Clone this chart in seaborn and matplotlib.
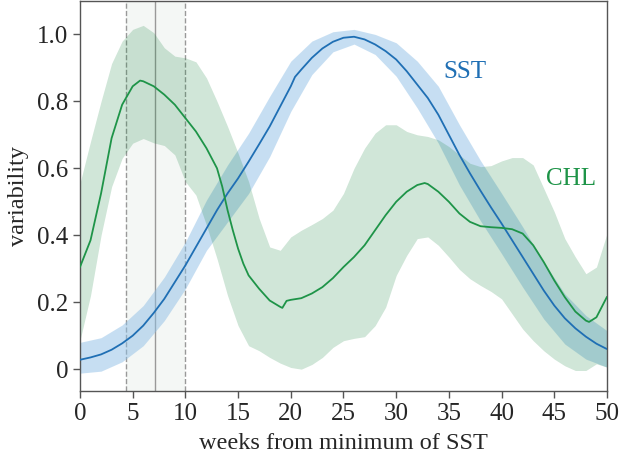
import numpy as np
import matplotlib
matplotlib.use("Agg")
import matplotlib.pyplot as plt
import seaborn as sns

# SST mean curve (weeks, value)
sst_weeks = [0, 1, 2, 3, 4, 5, 6, 7, 8, 9, 10, 11, 12, 13, 14, 15, 16, 17, 18, 19, 20, 20.4,
             21, 22, 23, 24, 25, 26, 27, 28, 29, 30, 31, 32, 33, 34, 35, 36, 37, 38, 39,
             40, 41, 42, 43, 44, 45, 46, 47, 48, 49, 50]
sst_mean = [0.028, 0.035, 0.044, 0.058, 0.077, 0.10, 0.13, 0.168, 0.21, 0.26, 0.31, 0.365,
            0.42, 0.475, 0.525, 0.57, 0.62, 0.672, 0.725, 0.785, 0.845, 0.873,
            0.895, 0.93, 0.958, 0.978, 0.99, 0.993, 0.985, 0.97, 0.95, 0.925, 0.89, 0.85,
            0.81, 0.76, 0.70, 0.64, 0.585, 0.533, 0.483, 0.435, 0.385, 0.335, 0.285,
            0.235, 0.19, 0.152, 0.122, 0.097, 0.076, 0.06]

# SST band
sst_band_weeks = [0, 2, 4, 6, 8, 10, 12, 14, 16, 18, 20, 22, 24, 26, 28, 30, 32, 34, 36,
                  38, 40, 42, 44, 46, 48, 50]
sst_upper = [0.08, 0.094, 0.132, 0.19, 0.275, 0.38, 0.505, 0.61, 0.705, 0.815, 0.92, 0.98,
             1.008, 1.015, 1.0, 0.975, 0.92, 0.845, 0.73, 0.623, 0.525, 0.425, 0.32,
             0.225, 0.16, 0.115]
sst_lower = [-0.012, -0.006, 0.022, 0.07, 0.145, 0.24, 0.355, 0.44, 0.525, 0.635, 0.77,
             0.88, 0.948, 0.971, 0.94, 0.875, 0.78, 0.675, 0.55, 0.443, 0.345, 0.245,
             0.15, 0.075, 0.03, 0.006]

# CHL mean curve
chl_weeks = [0, 1, 2, 3, 4, 5, 5.7, 6, 7, 8, 9, 10, 11, 12, 13, 13.5, 14, 14.5, 15, 15.5,
             16, 17, 18, 19, 19.2, 19.6, 20, 21, 22, 23, 24, 25, 26, 27, 28, 29, 30, 31,
             32, 32.7, 33, 34, 35, 36, 37, 38, 39, 40, 41, 42, 43, 44, 45, 46, 47, 48,
             48.3, 49, 50]
chl_mean = [0.305, 0.385, 0.525, 0.69, 0.79, 0.845, 0.862, 0.86, 0.845, 0.82, 0.79, 0.75,
            0.71, 0.66, 0.60, 0.545, 0.475, 0.415, 0.36, 0.315, 0.28, 0.24, 0.205, 0.186,
            0.183, 0.204, 0.207, 0.212, 0.226, 0.245, 0.272, 0.305, 0.335, 0.37, 0.415,
            0.46, 0.5, 0.53, 0.55, 0.556, 0.553, 0.53, 0.5, 0.465, 0.44, 0.427, 0.424,
            0.422, 0.418, 0.405, 0.37, 0.32, 0.265, 0.215, 0.172, 0.145, 0.141, 0.155,
            0.216]

# CHL band
chl_band_weeks = list(range(0, 51))
chl_upper = [0.555, 0.68, 0.80, 0.913, 0.98, 1.015, 1.027, 1.005, 0.96, 0.935, 0.93, 0.918,
             0.87, 0.80, 0.725, 0.645, 0.56, 0.45, 0.365, 0.355, 0.395, 0.415, 0.432, 0.45,
             0.475, 0.525, 0.60, 0.66, 0.705, 0.73, 0.73, 0.71, 0.70, 0.695, 0.685, 0.665,
             0.64, 0.615, 0.605, 0.608, 0.622, 0.632, 0.632, 0.61, 0.54, 0.47, 0.39, 0.335,
             0.285, 0.305, 0.405]
chl_lower = [0.086, 0.22, 0.40, 0.545, 0.63, 0.675, 0.689, 0.676, 0.668, 0.64, 0.56, 0.52,
             0.43, 0.33, 0.22, 0.13, 0.07, 0.055, 0.035, 0.018, 0.005, 0.0, 0.014, 0.035,
             0.065, 0.085, 0.092, 0.097, 0.13, 0.185, 0.28, 0.34, 0.39, 0.395, 0.37, 0.335,
             0.298, 0.27, 0.25, 0.232, 0.21, 0.165, 0.12, 0.085, 0.055, 0.03, 0.01, -0.004,
             -0.004, 0.016, 0.006]

window = [4.35, 7.15, 9.95]
yticks = [0, 0.2, 0.4, 0.6, 0.8, 1.0]
ytick_labels = ["0", "0.2", "0.4", "0.6", "0.8", "1.0"]

sst_col = "#1f6fb4"
chl_col = "#1e9448"

sns.set_style("ticks")
plt.rcParams["font.family"] = ["Liberation Serif", "DejaVu Serif"]

fig, ax = plt.subplots(figsize=(6.2, 4.63), dpi=100)
fig.subplots_adjust(left=0.129, right=0.979, bottom=0.155, top=0.998)

# time window
ax.axvspan(window[0], window[2], color="#e8efea", alpha=0.45, lw=0, zorder=0)
ax.axvline(window[0], color="#999999", ls="--", lw=1, zorder=1)
ax.axvline(window[2], color="#999999", ls="--", lw=1, zorder=1)
ax.axvline(window[1], color="#999999", ls="-", lw=1, zorder=1)

ax.fill_between(sst_band_weeks, sst_lower, sst_upper, color="#8fbfe6", alpha=0.5, lw=0, zorder=2)
ax.fill_between(chl_band_weeks, chl_lower, chl_upper, color="#14823c", alpha=0.2, lw=0, zorder=2)

sns.lineplot(x=sst_weeks, y=sst_mean, color=sst_col, lw=1.3, ax=ax, zorder=3)
sns.lineplot(x=chl_weeks, y=chl_mean, color=chl_col, lw=1.3, ax=ax, zorder=3)

ax.text(36.5, 0.887, "SST", color=sst_col, fontsize=18, ha="center", va="center")
ax.text(46.6, 0.567, "CHL", color=chl_col, fontsize=18, ha="center", va="center")

ax.set_xlim(0, 50)
ax.set_ylim(-0.066, 1.10)
ax.set_xticks(range(0, 51, 5))
ax.set_yticks(yticks)
ax.set_yticklabels(ytick_labels)
ax.tick_params(labelsize=18, length=5, width=1, color="#555555", direction="out")
ax.set_xlabel("weeks from minimum of SST", fontsize=17.5, labelpad=6)
ax.set_ylabel("variability", fontsize=17.5, labelpad=6)
for s in ax.spines.values():
    s.set_color("#555555")
    s.set_linewidth(1)

fig.savefig("out.png", dpi=100)
